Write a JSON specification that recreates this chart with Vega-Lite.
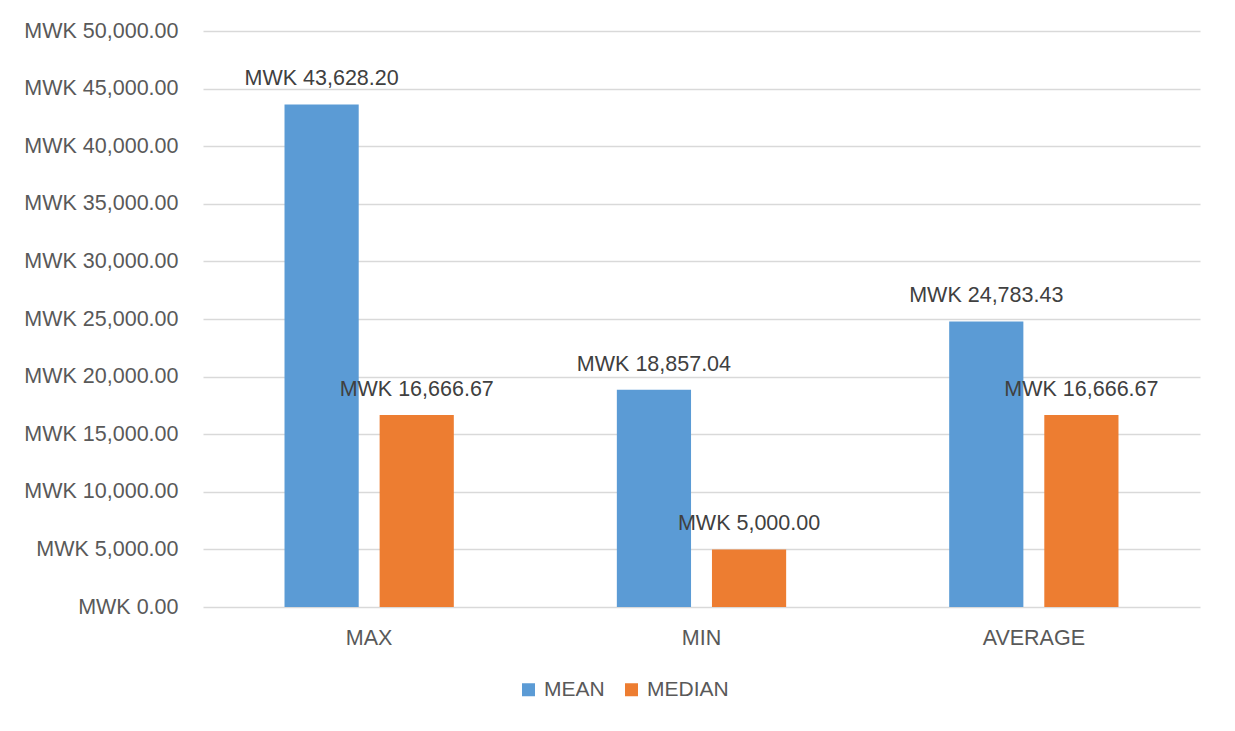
{
  "$schema": "https://vega.github.io/schema/vega-lite/v6.json",
  "width": 997,
  "height": 576,
  "autosize": {"type": "none"},
  "padding": {"left": 203, "top": 31, "right": 35, "bottom": 124},
  "background": "white",
  "data": {
    "values": [
      {"category": "MAX", "series": "MEAN", "value": 43628.20},
      {"category": "MAX", "series": "MEDIAN", "value": 16666.67},
      {"category": "MIN", "series": "MEAN", "value": 18857.04},
      {"category": "MIN", "series": "MEDIAN", "value": 5000.00},
      {"category": "AVERAGE", "series": "MEAN", "value": 24783.43},
      {"category": "AVERAGE", "series": "MEDIAN", "value": 16666.67}
    ]
  },
  "encoding": {
    "x": {
      "field": "category",
      "type": "nominal",
      "sort": ["MAX", "MIN", "AVERAGE"],
      "scale": {"paddingInner": 0, "paddingOuter": 0},
      "axis": {
        "title": null,
        "labelAngle": 0,
        "ticks": false,
        "domain": false,
        "labelPadding": 20,
        "labelFontSize": 21.5,
        "labelFont": "Liberation Sans",
        "labelColor": "#595959"
      }
    },
    "xOffset": {
      "field": "series",
      "type": "nominal",
      "sort": ["MEAN", "MEDIAN"],
      "scale": {"paddingInner": 0.22, "paddingOuter": 0.857}
    },
    "y": {
      "field": "value",
      "type": "quantitative",
      "scale": {"domain": [0, 50000], "nice": false},
      "axis": {
        "title": null,
        "values": [0, 5000, 10000, 15000, 20000, 25000, 30000, 35000, 40000, 45000, 50000],
        "labelExpr": "'MWK ' + format(datum.value, ',.2f')",
        "ticks": false,
        "domain": false,
        "grid": true,
        "gridColor": "#D9D9D9",
        "gridWidth": 1.3,
        "labelPadding": 25,
        "labelFontSize": 21.5,
        "labelFont": "Liberation Sans",
        "labelColor": "#595959"
      }
    },
    "color": {
      "field": "series",
      "type": "nominal",
      "sort": ["MEAN", "MEDIAN"],
      "scale": {"domain": ["MEAN", "MEDIAN"], "range": ["#5B9BD5", "#ED7D31"]},
      "legend": {
        "title": null,
        "orient": "none",
        "direction": "horizontal",
        "legendX": 315,
        "legendY": 648,
        "symbolType": "square",
        "symbolSize": 169,
        "symbolStrokeWidth": 0,
        "labelFontSize": 21,
        "labelFont": "Liberation Sans",
        "labelColor": "#595959",
        "columnPadding": 16,
        "labelOffset": 5
      }
    }
  },
  "layer": [
    {"mark": {"type": "bar"}},
    {
      "mark": {
        "type": "text",
        "baseline": "bottom",
        "dy": -14,
        "fontSize": 21.5,
        "font": "Liberation Sans",
        "color": "#404040",
        "text": {"expr": "'MWK ' + format(datum.value, ',.2f')"}
      },
      "encoding": {
        "color": {"value": "#404040"}
      }
    }
  ],
  "config": {
    "view": {"stroke": null}
  }
}
